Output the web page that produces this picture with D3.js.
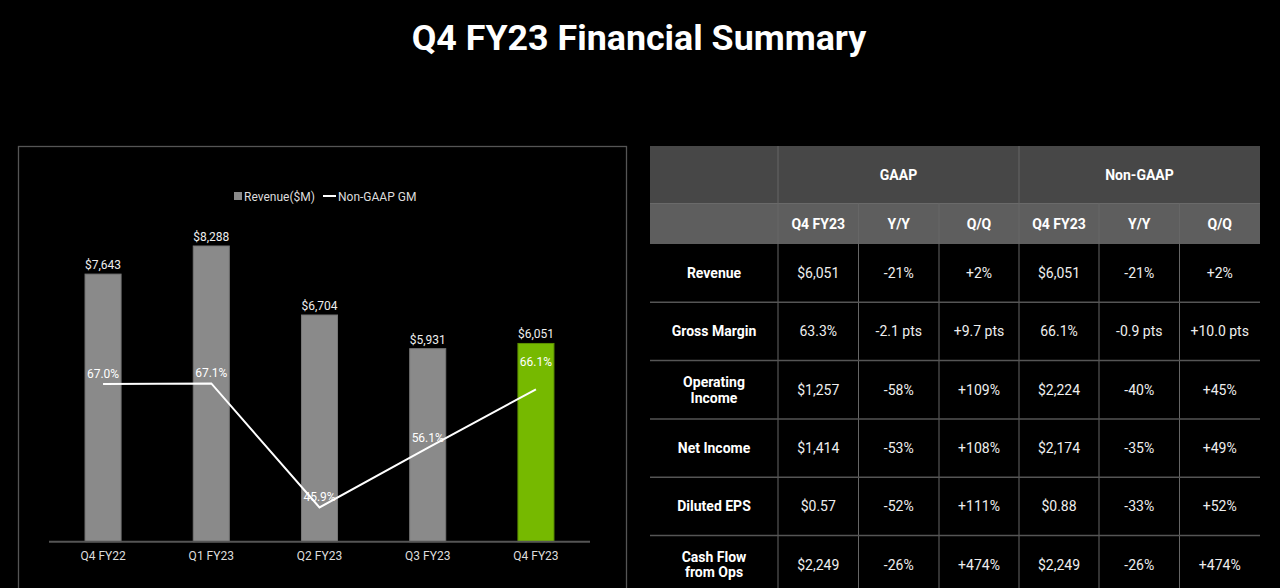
<!DOCTYPE html>
<html><head><meta charset="utf-8">
<script src="https://cdn.jsdelivr.net/npm/d3@7"></script>
<style>html,body{margin:0;padding:0;background:#000;}svg{display:block;font-family:Roboto,"Liberation Sans",sans-serif;}</style>
</head><body>
<svg id="c" width="1280" height="588"></svg>
<script>
const title = "Q4 FY23 Financial Summary";
const categories = ["Q4 FY22","Q1 FY23","Q2 FY23","Q3 FY23","Q4 FY23"];
const revenue = [7643, 8288, 6704, 5931, 6051];
const grossMargin = [67.0, 67.1, 45.9, 56.1, 66.1];
const legendLabels = ["Revenue($M)", "Non-GAAP GM"];

const groupHeaders = ["GAAP", "Non-GAAP"];
const subHeaders = ["Q4 FY23", "Y/Y", "Q/Q", "Q4 FY23", "Y/Y", "Q/Q"];
const rowLabels = [["Revenue"], ["Gross Margin"], ["Operating", "Income"], ["Net Income"], ["Diluted EPS"], ["Cash Flow", "from Ops"]];
const gaapValues = [
  ["$6,051", "-21%", "+2%"],
  ["63.3%", "-2.1 pts", "+9.7 pts"],
  ["$1,257", "-58%", "+109%"],
  ["$1,414", "-53%", "+108%"],
  ["$0.57", "-52%", "+111%"],
  ["$2,249", "-26%", "+474%"]
];
const nonGaapValues = [
  ["$6,051", "-21%", "+2%"],
  ["66.1%", "-0.9 pts", "+10.0 pts"],
  ["$2,224", "-40%", "+45%"],
  ["$2,174", "-35%", "+49%"],
  ["$0.88", "-33%", "+52%"],
  ["$2,249", "-26%", "+474%"]
];

const svg = d3.select("#c");
svg.append("rect").attr("width",1280).attr("height",588).attr("fill","#000");

svg.append("text").attr("x",639).attr("y",50).attr("text-anchor","middle")
  .attr("fill","#fff").attr("font-size",35.8).attr("font-weight",700).text(title);

// ---- Chart ----
svg.append("rect").attr("x",18.5).attr("y",146.5).attr("width",608).attr("height",460)
  .attr("fill","none").attr("stroke","#555").attr("stroke-width",1.3);

const x = d3.scaleBand().domain(categories).range([49,590]).paddingInner(0.667).paddingOuter(0.333);
const yRev = d3.scaleLinear().domain([1500, 9000]).range([541.7, 215]);
const yGm = d3.scaleLinear().domain([40, 100]).range([542, 191]);

const g = svg.append("g");
g.selectAll("rect.bar").data(revenue).join("rect").attr("class","bar")
  .attr("x",(d,i)=>x(categories[i])).attr("width",x.bandwidth())
  .attr("y",d=>yRev(d)).attr("height",d=>yRev.range()[0]-yRev(d))
  .attr("fill",(d,i)=> i===revenue.length-1 ? "#76b900" : "#8a8a8a")
  .attr("stroke",(d,i)=> i===revenue.length-1 ? "#5c9000" : "#777").attr("stroke-width",1);

g.selectAll("text.rv").data(revenue).join("text").attr("class","rv")
  .attr("x",(d,i)=>x(categories[i])+x.bandwidth()/2).attr("y",d=>yRev(d)-5)
  .attr("text-anchor","middle").attr("fill","#eee").attr("font-size",12)
  .text(d=>"$"+d3.format(",")(d));

// axis
const axis = g.append("g").attr("transform","translate(0,541.7)")
  .call(d3.axisBottom(x).tickSize(0).tickPadding(10));
axis.select(".domain").attr("stroke","#555").attr("stroke-width",2)
  .attr("d","M49,0H590");
axis.selectAll("text").attr("fill","#ddd").attr("font-size",12).attr("font-family","Roboto,sans-serif");

// line
const line = d3.line().x((d,i)=>x(categories[i])+x.bandwidth()/2).y(d=>yGm(d));
g.append("path").datum(grossMargin).attr("d",line).attr("fill","none")
  .attr("stroke","#fff").attr("stroke-width",2);
g.selectAll("text.gm").data(grossMargin).join("text").attr("class","gm")
  .attr("x",(d,i)=>x(categories[i])+x.bandwidth()/2)
  .attr("y",(d,i)=>yGm(d) - (i===grossMargin.length-1 ? 23 : 6))
  .attr("text-anchor","middle").attr("fill","#fff").attr("font-size",12)
  .text(d=>d.toFixed(1)+"%");

// legend
const lg = svg.append("g");
lg.append("rect").attr("x",234).attr("y",192).attr("width",8).attr("height",8).attr("fill","#8a8a8a");
lg.append("text").attr("x",244).attr("y",200.5).attr("fill","#ddd").attr("font-size",12).text(legendLabels[0]);
lg.append("line").attr("x1",323).attr("x2",336).attr("y1",196).attr("y2",196).attr("stroke","#fff").attr("stroke-width",2);
lg.append("text").attr("x",338).attr("y",200.5).attr("fill","#ddd").attr("font-size",12).text(legendLabels[1]);

// ---- Table ----
const colEdges = [650, 778, 858.5, 939, 1019, 1099, 1179.5, 1260];
const h1Top = 146, h1Bot = 203.5, h2Bot = 244, rowH = 58.3;
const t = svg.append("g").attr("font-size",14);
t.append("rect").attr("x",colEdges[0]).attr("y",h1Top).attr("width",colEdges[7]-colEdges[0]).attr("height",h1Bot-h1Top).attr("fill","#474747");
t.append("rect").attr("x",colEdges[0]).attr("y",h1Bot).attr("width",colEdges[7]-colEdges[0]).attr("height",h2Bot-h1Bot).attr("fill","#5e5e5e");
t.append("line").attr("x1",colEdges[0]).attr("x2",colEdges[7]).attr("y1",h1Bot).attr("y2",h1Bot).attr("stroke","#6a6a6a");

// vertical lines
colEdges.slice(1,7).forEach((cx,i)=>{
  const major = (i===0 || i===3);
  t.append("line").attr("x1",cx).attr("x2",cx)
    .attr("y1", major ? h1Top : h1Bot).attr("y2", 600)
    .attr("stroke", "#666").attr("stroke-width",1);
});
// horizontal row lines
rowLabels.forEach((r,i)=>{
  if(i>0){
    const yy = h2Bot + i*rowH;
    t.append("line").attr("x1",colEdges[0]).attr("x2",colEdges[7]).attr("y1",yy).attr("y2",yy).attr("stroke","#555").attr("stroke-width",1.5);
  }
});

// group headers
groupHeaders.forEach((h,i)=>{
  const x0 = colEdges[1+i*3], x1 = colEdges[4+i*3];
  t.append("text").attr("x",(x0+x1)/2).attr("y",(h1Top+h1Bot)/2+5).attr("text-anchor","middle")
    .attr("fill","#fff").attr("font-weight",700).text(h);
});
subHeaders.forEach((h,i)=>{
  t.append("text").attr("x",(colEdges[i+1]+colEdges[i+2])/2).attr("y",(h1Bot+h2Bot)/2+5).attr("text-anchor","middle")
    .attr("fill","#fff").attr("font-weight",700).text(h);
});
rowLabels.forEach((lab,r)=>{
  const cy = h2Bot + r*rowH + rowH/2;
  lab.forEach((s,k)=>{
    t.append("text").attr("x",(colEdges[0]+colEdges[1])/2)
      .attr("y", cy + 5 + (k - (lab.length-1)/2)*15.5)
      .attr("text-anchor","middle").attr("fill","#fff").attr("font-weight",700).text(s);
  });
  gaapValues[r].concat(nonGaapValues[r]).forEach((v,c)=>{
    t.append("text").attr("x",(colEdges[c+1]+colEdges[c+2])/2).attr("y",cy+5)
      .attr("text-anchor","middle").attr("fill","#eee").text(v);
  });
});
</script>
</body></html>
